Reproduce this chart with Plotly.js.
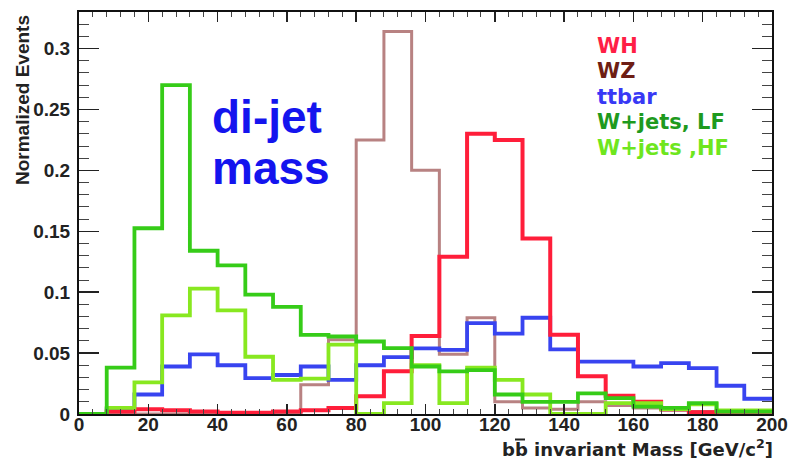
<!DOCTYPE html>
<html>
<head>
<meta charset="utf-8">
<script src="https://cdn.plot.ly/plotly-3.0.1.min.js"></script>
<style>html,body{margin:0;padding:0;background:#fff;}</style>
</head>
<body>
<div id="chart" style="width:789px;height:465px;"></div>
<script>
// bin edges of the histograms (GeV/c^2)
const binEdges = [0,8,16,24,32,40,48,56,64,72,80,88,96,104,112,120,128,136,144,152,160,168,176,184,192,200];
// normalized events per bin
const whValues    = [0,0.002,0.004,0.003,0.002,0.001,0.001,0.002,0.003,0.005,0.0145,0.035,0.064,0.129,0.230,0.225,0.144,0.065,0.031,0.015,0.010,0.004,0.0015,0.002,0.002];
const wzValues    = [0,0,0,0,0,0,0,0.001,0.024,0.061,0.225,0.314,0.200,0.049,0.079,0.010,0.005,0.004,0.010,0.007,0.005,0.003,0.002,0.001,0.001];
const ttbarValues = [0,0.004,0.016,0.039,0.049,0.040,0.0295,0.032,0.039,0.028,0.040,0.0467,0.0538,0.0527,0.0746,0.066,0.079,0.053,0.043,0.043,0.039,0.0418,0.0377,0.0232,0.0125];
const wjLFValues  = [0,0.038,0.1525,0.270,0.134,0.122,0.098,0.088,0.065,0.0636,0.0595,0.054,0.039,0.035,0.036,0.016,0.010,0.010,0.017,0.013,0.006,0.005,0.009,0.002,0.002];
const wjHFValues  = [0,0.005,0.026,0.081,0.103,0.085,0.047,0.028,0.029,0.057,0,0.009,0.040,0.009,0.038,0.028,0.016,0,0,0.009,0.009,0.004,0.008,0.003,0.003];
const seriesNames = ["WH","WZ","ttbar","W+jets, LF","W+jets ,HF"];
const xTickVals = [0,20,40,60,80,100,120,140,160,180,200];
const yTickVals = [0,0.05,0.1,0.15,0.2,0.25,0.3];
const yTickText = ["0","0.05","0.1","0.15","0.2","0.25","0.3"];

const colors = {
  wh: "#ff1e3a", whLegend: "#ff1e46",
  wz: "#b88282", wzLegend: "#6e1e14",
  tt: "#3844f0", ttLegend: "#3838f5",
  lf: "#36cc18", lfLegend: "#1e9a1e",
  hf: "#88e820", hfLegend: "#6ee61e"
};

// plot frame in pixels (used only for placing the texts)
const P = {l: 79, r: 772, t: 12, b: 414};
const px = (x) => (x - P.l) / (P.r - P.l);
const py = (y) => 1 - (y - P.t) / (P.b - P.t);

function stepTrace(vals, color, width, name) {
  return {
    x: binEdges,
    y: vals.concat([vals[vals.length - 1]]),
    type: "scatter",
    mode: "lines",
    line: {shape: "hv", color: color, width: width},
    name: name,
    hoverinfo: "skip",
    cliponaxis: true
  };
}

const data = [
  stepTrace(wzValues, colors.wz, 3, seriesNames[1]),
  stepTrace(ttbarValues, colors.tt, 3.8, seriesNames[2]),
  stepTrace(whValues, colors.wh, 4, seriesNames[0]),
  stepTrace(wjHFValues, colors.hf, 3.8, seriesNames[4]),
  stepTrace(wjLFValues, colors.lf, 3.8, seriesNames[3])
];

const tickFont = {family: "Liberation Sans, Arial, sans-serif", size: 19, color: "#222", weight: "bold"};
const legFont = (c) => ({family: "DejaVu Sans, sans-serif", size: 21, color: c, weight: "bold"});

const legendColors = [colors.whLegend, colors.wzLegend, colors.ttLegend, colors.lfLegend, colors.hfLegend];
const legendY = [46, 71, 97, 122, 148];
const annotations = seriesNames.map((n, i) => ({
  xref: "paper", yref: "paper",
  x: px(595), y: py(legendY[i]),
  xanchor: "left", yanchor: "middle",
  text: "<b>" + n + "</b>", showarrow: false,
  font: legFont(legendColors[i])
}));

annotations.push({
  xref: "paper", yref: "paper",
  x: px(210), y: py(117),
  xanchor: "left", yanchor: "middle",
  text: "<b>di-jet</b>", showarrow: false,
  font: {family: "Liberation Sans, Arial, sans-serif", size: 46, color: "#1414ee"}
});
annotations.push({
  xref: "paper", yref: "paper",
  x: px(210), y: py(168),
  xanchor: "left", yanchor: "middle",
  text: "<b>mass</b>", showarrow: false,
  font: {family: "Liberation Sans, Arial, sans-serif", size: 46, color: "#1414ee"}
});
// x axis title
const xTitleLeft = 500;
annotations.push({
  xref: "paper", yref: "paper",
  x: px(xTitleLeft), y: py(448),
  xanchor: "left", yanchor: "middle",
  text: "<b>bb invariant Mass [GeV/c<sup>2</sup>]</b>", showarrow: false,
  font: {family: "DejaVu Sans, sans-serif", size: 18, color: "#222", weight: "bold"}
});
// y axis title (top aligned, rotated)
annotations.push({
  xref: "paper", yref: "paper",
  x: px(22), y: py(13),
  xanchor: "center", yanchor: "top",
  textangle: -90,
  text: "<b>Normalized Events</b>", showarrow: false,
  font: {family: "Liberation Sans, Arial, sans-serif", size: 19, color: "#222"}
});

// overline of the anti-b quark symbol
const shapes = [{
  type: "line", xref: "paper", yref: "paper",
  x0: px(xTitleLeft + 15), x1: px(xTitleLeft + 25),
  y0: py(439.5), y1: py(439.5),
  line: {color: "#222", width: 2}
}];

const layout = {
  width: 789, height: 465,
  margin: {l: 79, r: 17, t: 12, b: 51, pad: 0},
  paper_bgcolor: "#ffffff",
  plot_bgcolor: "#ffffff",
  showlegend: false,
  xaxis: {
    range: [0, 200],
    tickvals: xTickVals,
    ticks: "inside", ticklen: 10, tickwidth: 1.5, tickcolor: "#222",
    minor: {ticks: "inside", dtick: 4, ticklen: 5, tickwidth: 1, tickcolor: "#444"},
    mirror: "ticks",
    showline: true, linecolor: "#111", linewidth: 2,
    showgrid: false, zeroline: false,
    tickfont: tickFont,
    ticklabelstandoff: -8
  },
  yaxis: {
    range: [0, 0.33],
    tickvals: yTickVals,
    ticktext: yTickText,
    ticks: "inside", ticklen: 20, tickwidth: 1.5, tickcolor: "#222",
    minor: {ticks: "inside", dtick: 0.01, ticklen: 10, tickwidth: 1, tickcolor: "#444"},
    mirror: "ticks",
    showline: true, linecolor: "#111", linewidth: 2,
    showgrid: false, zeroline: false,
    tickfont: tickFont,
    ticklabelstandoff: 3
  },
  annotations: annotations,
  shapes: shapes
};

Plotly.newPlot("chart", data, layout, {displayModeBar: false, staticPlot: true});
</script>
</body>
</html>
